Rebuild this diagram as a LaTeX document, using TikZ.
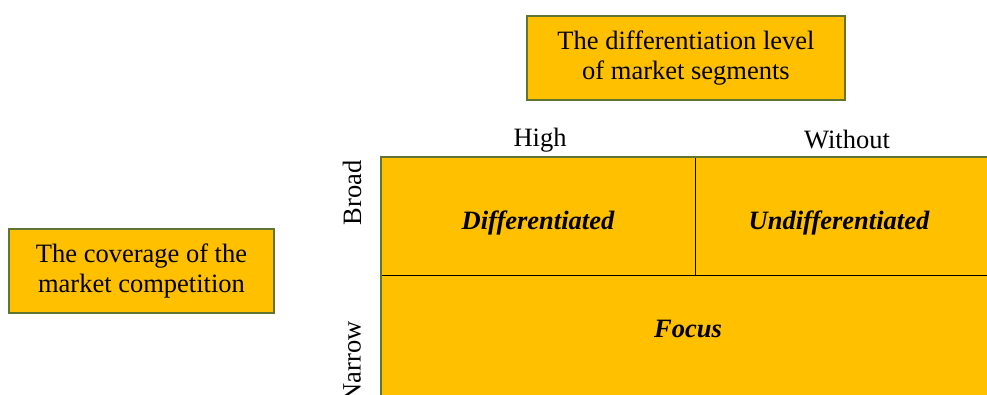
\documentclass[tikz,border=0pt]{standalone}
\usepackage{fontspec}
\setmainfont{Liberation Serif}
\usetikzlibrary{positioning}
\definecolor{cellfill}{HTML}{FFC000}
\definecolor{olive}{HTML}{5F7530}
\tikzset{
  titlebox/.style={draw=olive,line width=1.5pt,fill=cellfill,align=center,inner sep=0pt,
    minimum width=318pt,minimum height=84pt,font=\fontsize{26.5}{30}\selectfont},
  cell/.style={fill=cellfill,inner sep=0pt,font=\fontsize{26.5}{30}\selectfont\bfseries\itshape},
  axislabel/.style={inner sep=0pt,font=\fontsize{26.5}{30}\selectfont}
}
\begin{document}
\begin{tikzpicture}[x=1pt,y=-1pt]
    \useasboundingbox (0,0) rectangle (987,395);
    \node[titlebox] (segments) at (686,58) {The differentiation level\\of market segments};
    \node[titlebox,minimum width=265pt] (coverage) at (141.5,271) {The coverage of the\\market competition};

    \node[cell,minimum width=314pt,minimum height=118pt] (diff) at (538,216) {};
    \node[cell,minimum width=300pt,minimum height=118pt,right=0pt of diff] (undiff) {};
    \node[cell,minimum width=620pt,minimum height=130pt,below=0pt of diff.south west,anchor=north west] (focus) {};
    \node[cell] at (538,223) {Differentiated};
    \node[cell] at (839,223) {Undifferentiated};
    \node[cell] at (688,329) {Focus};

    \draw[black,line width=1.4pt] (diff.south west) -- (focus.north east);
    \draw[black,line width=1.4pt] (diff.north east) -- (diff.south east);
    \draw[olive,line width=1.5pt] (focus.south west) |- (undiff.north east);

    \node[axislabel] (high) at (540,140) {High};
    \node[axislabel] (without) at (847,140) {Without};
    \node[axislabel,rotate=90] (broad) at (352,193) {Broad};
    \node[axislabel,rotate=90] (narrow) at (352,362) {Narrow};
\end{tikzpicture}
\end{document}
